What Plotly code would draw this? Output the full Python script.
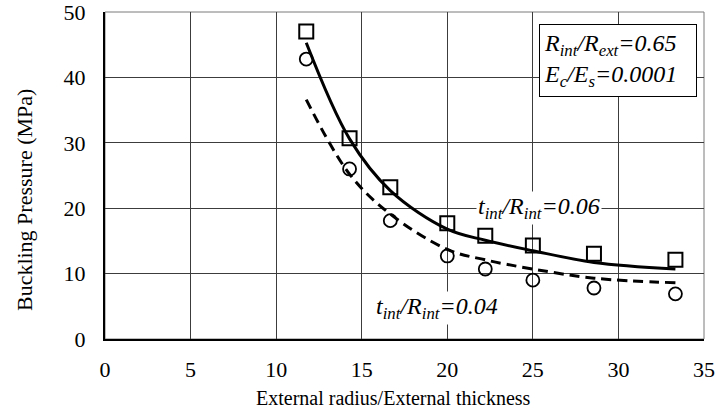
import plotly.graph_objects as go

# Data
x_ratio = [11.76, 14.29, 16.67, 20.0, 22.22, 25.0, 28.57, 33.33]
p_sq = [47.0, 30.7, 23.2, 17.7, 15.8, 14.3, 13.05, 12.1]       # t_int/R_int = 0.06 (points)
p_ci = [42.8, 26.0, 18.1, 12.7, 10.7, 9.0, 7.8, 6.9]           # t_int/R_int = 0.04 (points)
fit_06 = [45.3, 30.6, 22.7, 16.8, 15.1, 13.5, 11.7, 10.7]      # solid curve
fit_04 = [36.6, 25.2, 19.1, 13.7, 12.1, 10.7, 9.3, 8.6]        # dashed curve
x_ticks = [0, 5, 10, 15, 20, 25, 30, 35]
y_ticks = [0, 10, 20, 30, 40, 50]

FONT = "Liberation Serif"

fig = go.Figure()
fig.add_trace(go.Scatter(x=x_ratio, y=fit_06, mode="lines", line=dict(color="black", width=3, shape="spline"),
                         showlegend=False, hoverinfo="skip"))
fig.add_trace(go.Scatter(x=x_ratio, y=fit_04, mode="lines",
                         line=dict(color="black", width=3, shape="spline", dash="10px,6px"),
                         showlegend=False, hoverinfo="skip"))
fig.add_trace(go.Scatter(x=x_ratio, y=p_sq, mode="markers",
                         marker=dict(symbol="square-open", size=14, color="black", line=dict(width=2, color="black")),
                         showlegend=False))
fig.add_trace(go.Scatter(x=x_ratio, y=p_ci, mode="markers",
                         marker=dict(symbol="circle-open", size=13, color="black", line=dict(width=1.8, color="black")),
                         showlegend=False))

# thin outer border of the plot area
fig.add_shape(type="rect", xref="x domain", yref="y domain", x0=0, x1=1, y0=0, y1=1,
              line=dict(color="#7a7a7a", width=1), layer="below")

fig.add_annotation(x=21.68, y=20, xref="x", yref="y", xanchor="left", yanchor="middle",
                   text="<i>t<sub>int</sub>/R<sub>int</sub>=0.06</i>", showarrow=False,
                   font=dict(family=FONT, size=24, color="black"), bgcolor="white", borderpad=1)
fig.add_annotation(x=15.72, y=4.7, xref="x", yref="y", xanchor="left", yanchor="middle",
                   text="<i>t<sub>int</sub>/R<sub>int</sub>=0.04</i>", showarrow=False,
                   font=dict(family=FONT, size=24, color="black"), bgcolor="white", borderpad=1)
fig.add_annotation(x=34.6, y=48.17, xref="x", yref="y", xanchor="right", yanchor="top",
                   text="<i>R<sub>int</sub>/R<sub>ext</sub>=0.65<br>E<sub>c</sub>/E<sub>s</sub>=0.0001</i>",
                   showarrow=False, align="left", width=148, height=63,
                   font=dict(family=FONT, size=24, color="black"), bgcolor="white",
                   bordercolor="black", borderwidth=1, borderpad=4)

# axis titles
fig.add_annotation(x=0.481, y=-0.1804, xref="paper", yref="paper", text="External radius/External thickness",
                   showarrow=False, font=dict(family=FONT, size=20, color="black"), yanchor="middle")
fig.add_annotation(x=-0.1352, y=0.425, xref="paper", yref="paper", text="Buckling Pressure (MPa)",
                   showarrow=False, textangle=-90, font=dict(family=FONT, size=22, color="black"),
                   xanchor="center", yanchor="middle")

fig.update_layout(
    width=715, height=414,
    margin=dict(l=105, r=11, t=12, b=75),
    plot_bgcolor="white", paper_bgcolor="white",
    font=dict(family=FONT, size=20, color="black"),
    showlegend=False,
)
fig.update_xaxes(range=[0, 35], tickvals=x_ticks, ticktext=[str(v) for v in x_ticks],
                 showgrid=True, gridcolor="#3c3c3c", gridwidth=1, zeroline=False,
                 showline=True, linecolor="black", linewidth=2, ticks="", ticklabelstandoff=10,
                 ticklabeloverflow="allow", automargin=False,
                 tickfont=dict(family=FONT, size=22, color="black"))
fig.update_yaxes(range=[0, 50], tickvals=y_ticks, ticktext=[str(v) for v in y_ticks],
                 showgrid=True, gridcolor="#3c3c3c", gridwidth=1, zeroline=False,
                 showline=True, linecolor="black", linewidth=2, ticks="", ticklabelstandoff=13,
                 ticklabeloverflow="allow", automargin=False,
                 tickfont=dict(family=FONT, size=22, color="black"))

fig.write_html("out.html")
